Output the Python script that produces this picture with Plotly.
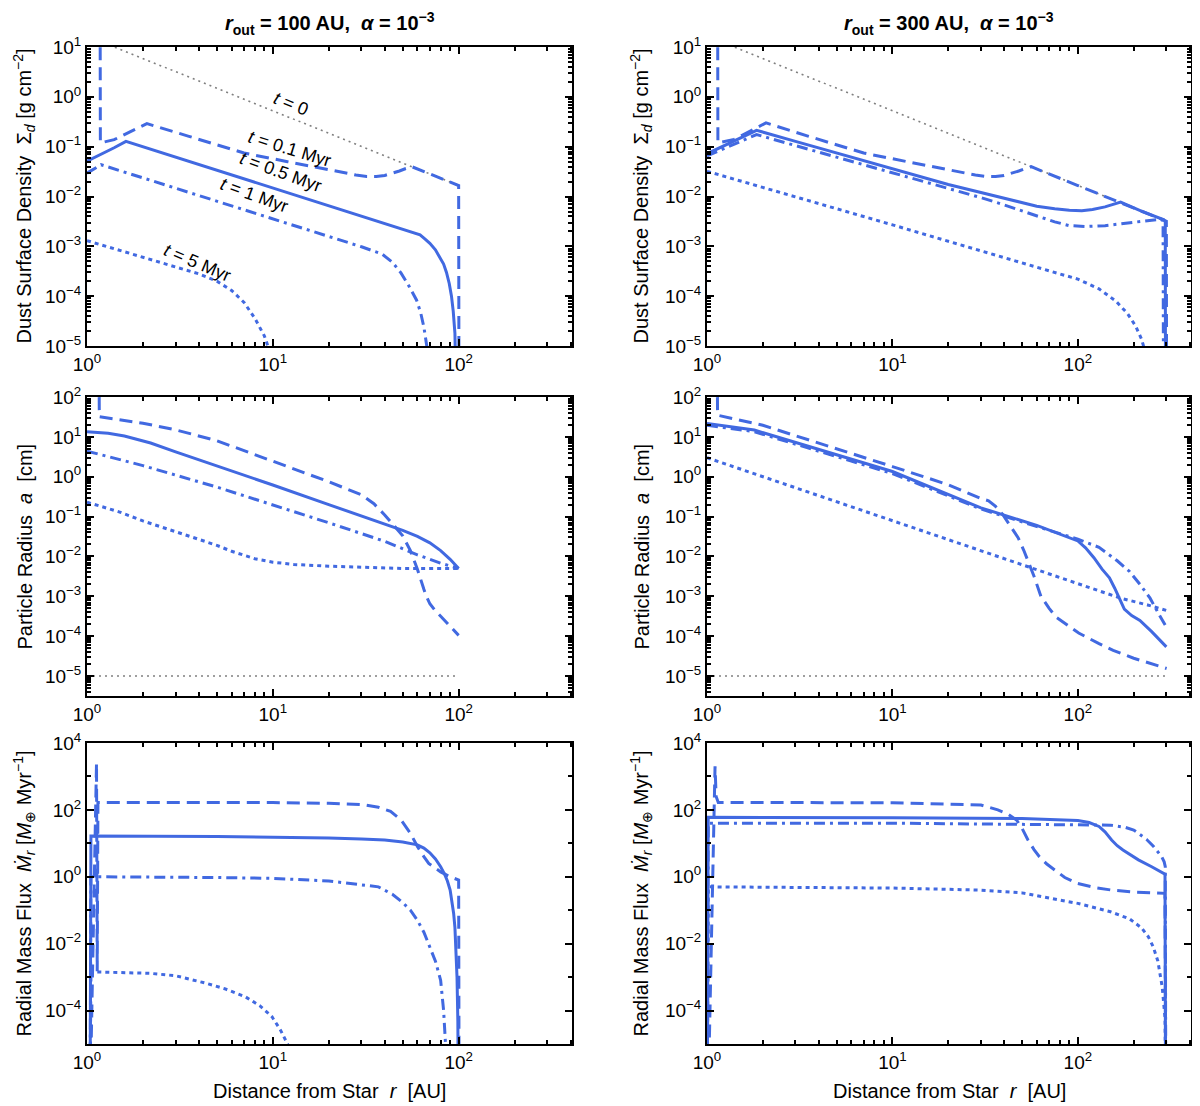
import plotly.graph_objects as go
from plotly.subplots import make_subplots

BLUE = "#4169E1"
GRAY = "#808080"
FONT = "Liberation Sans, Arial, sans-serif"

# ---------------- top row: dust surface density [g cm^-2] ----------------
# r_out = 100 AU
SD100_T0_R = [1.0, 100.0]
SD100_T0 = [16.6, 0.0166]
SD100_A_R = [1.175, 1.18, 1.4, 2.1, 3.5, 7.0, 12.0, 20.0, 24.0, 28.0, 32.0, 36.0, 40.0, 44.0, 48.0, 52.0, 56.0, 75.0, 100.0, 100.5]
SD100_A = [1000, 0.119, 0.138, 0.29, 0.163, 0.0745, 0.05, 0.0344, 0.030, 0.027, 0.0253, 0.0252, 0.0265, 0.029, 0.0325, 0.0365, 0.0396, 0.0256, 0.0166, 1e-7]
SD100_B_R = [1.0, 1.2, 1.4, 1.62, 3.0, 5.0, 10.0, 20.0, 40.0, 55.0, 62.0, 66.0, 70.0, 75.0, 79.0, 83.0, 86.0, 89.0, 91.5, 93.5, 95.5, 97.0, 98.0]
SD100_B = [0.051, 0.07, 0.095, 0.128, 0.0618, 0.0337, 0.0148, 0.0065, 0.00286, 0.0020, 0.0017, 0.0014, 0.00115, 8.5e-4, 6.2e-4, 4.4e-4, 3e-4, 1.8e-4, 1.0e-4, 5e-5, 1.8e-5, 5e-6, 1e-7]
SD100_C_R = [1.0, 1.19, 3.0, 10.0, 20.0, 30.0, 38.7, 44.0, 49.0, 54.0, 59.4, 62.5, 65.0, 67.0, 68.0, 69.0]
SD100_C = [0.0295, 0.0434, 0.01466, 0.00356, 0.00157, 9.8e-4, 7.0e-4, 4.8e-4, 2.9e-4, 1.6e-4, 8.3e-5, 4.6e-5, 2.4e-5, 1.2e-5, 8e-6, 1e-7]
SD100_D_R = [1.0, 2.0, 3.0, 4.0, 5.0, 6.0, 7.0, 8.0, 9.0, 9.6, 10.0]
SD100_D = [1.3e-3, 6e-4, 3.9e-4, 2.8e-4, 2e-4, 1.3e-4, 7.5e-5, 3.6e-5, 1.6e-5, 8e-6, 1e-7]

# r_out = 300 AU
SD300_T0_R = [1.0, 300.0]
SD300_T0 = [16.6, 0.0032]
SD300_A_R = [1.14, 1.145, 1.4, 2.08, 3.5, 7.0, 12.0, 20.0, 24.0, 28.0, 32.0, 36.0, 40.0, 44.0, 48.0, 52.0, 56.0, 100.0, 200.0, 300.0, 301.0]
SD300_A = [1000, 0.119, 0.14, 0.30, 0.163, 0.0745, 0.05, 0.0344, 0.030, 0.027, 0.0253, 0.0252, 0.0265, 0.029, 0.0325, 0.0365, 0.0396, 0.0166, 0.00587, 0.0032, 1e-7]
SD300_B_R = [1.0, 1.3, 1.85, 3.0, 10.0, 20.0, 30.0, 40.0, 50.0, 60.0, 75.0, 90.0, 105.0, 120.0, 140.0, 160.0, 170.0, 220.0, 291.0, 296.0, 297.0]
SD300_B = [0.072, 0.115, 0.213, 0.128, 0.036, 0.0174, 0.012, 0.0092, 0.0075, 0.0064, 0.0057, 0.0053, 0.0052, 0.0055, 0.0062, 0.0072, 0.0077, 0.0051, 0.0034, 0.0031, 1e-7]
SD300_C_R = [1.0, 1.3, 1.85, 3.0, 10.0, 20.0, 30.0, 40.0, 50.0, 60.0, 75.0, 90.0, 110.0, 140.0, 180.0, 230.0, 277.0, 288.0, 290.0]
SD300_C = [0.065, 0.1, 0.175, 0.105, 0.03, 0.0145, 0.0095, 0.0068, 0.0051, 0.0041, 0.0031, 0.0026, 0.0025, 0.0026, 0.0029, 0.0032, 0.0035, 0.0033, 1e-7]
SD300_D_R = [1.0, 10.0, 77.0, 100.0, 130.0, 160.0, 185.0, 205.0, 220.0, 230.0, 232.0]
SD300_D = [0.032, 0.0027, 2.9e-4, 2.2e-4, 1.4e-4, 8e-5, 4.5e-5, 2.5e-5, 1.4e-5, 8e-6, 1e-7]

# ---------------- middle row: particle radius [cm] ----------------
PR100_T0_R = [1.0, 100.0]
PR100_T0 = [1e-5, 1e-5]
PR100_A_R = [1.16, 1.165, 2.0, 3.0, 5.0, 10.0, 20.0, 30.0, 35.0, 40.0, 45.0, 50.0, 55.0, 60.0, 65.0, 67.0, 70.0, 75.0, 81.0, 90.0, 100.0]
PR100_A = [1000, 32, 22, 15, 8, 2.5, 0.75, 0.35, 0.21, 0.11, 0.06, 0.033, 0.014, 0.0048, 0.0015, 0.001, 6.5e-4, 4.3e-4, 3e-4, 1.75e-4, 1.05e-4]
PR100_B_R = [1.0, 1.3, 1.59, 2.2, 3.0, 5.0, 10.0, 20.0, 30.0, 40.0, 50.0, 60.0, 70.0, 80.0, 90.0, 100.0]
PR100_B = [13.4, 12.3, 10.5, 7.0, 4.2, 1.9, 0.62, 0.2, 0.105, 0.065, 0.045, 0.032, 0.022, 0.014, 0.0085, 0.005]
PR100_C_R = [1.0, 2.0, 5.0, 10.0, 20.0, 40.0, 60.0, 80.0, 100.0]
PR100_C = [4.4, 1.9, 0.55, 0.2, 0.07, 0.024, 0.011, 0.0068, 0.005]
PR100_D_R = [1.0, 1.5, 2.0, 3.0, 4.0, 5.0, 6.0, 7.0, 8.0, 10.0, 13.0, 20.0, 30.0, 50.0, 100.0]
PR100_D = [0.23, 0.13, 0.078, 0.042, 0.027, 0.019, 0.0135, 0.0105, 0.0088, 0.0072, 0.0063, 0.0057, 0.0053, 0.005, 0.005]

PR300_T0_R = [1.0, 300.0]
PR300_T0 = [1e-5, 1e-5]
PR300_A_R = [1.135, 1.14, 2.0, 5.0, 10.0, 20.0, 29.7, 33.0, 36.0, 39.4, 43.0, 47.6, 51.0, 54.8, 58.0, 63.2, 70.0, 76.4, 90.0, 101.0, 130.0, 155.0, 200.0, 250.0, 301.0]
PR300_A = [1000, 35, 19.5, 5.1, 1.8, 0.63, 0.29, 0.25, 0.18, 0.112, 0.06, 0.0295, 0.0145, 0.0064, 0.0032, 1.0e-3, 5e-4, 3e-4, 1.8e-4, 1.2e-4, 6.5e-5, 4.4e-5, 2.8e-5, 2e-5, 1.55e-5]
PR300_B_R = [1.0, 1.8, 10.0, 30.0, 60.0, 100.0, 110.0, 122.0, 135.0, 148.0, 158.0, 167.0, 178.0, 195.0, 216.0, 250.0, 300.0]
PR300_B = [21.6, 14.8, 1.35, 0.166, 0.06, 0.0245, 0.0165, 0.0093, 0.0048, 0.0029, 0.0016, 9.5e-4, 4.8e-4, 3.3e-4, 2.5e-4, 1.3e-4, 5.4e-5]
PR300_C_R = [1.0, 1.8, 10.0, 30.0, 100.0, 130.0, 163.0, 190.0, 216.0, 245.0, 274.0, 300.0]
PR300_C = [19.5, 13.5, 1.2, 0.155, 0.027, 0.017, 0.0078, 0.0042, 0.002, 9e-4, 3.5e-4, 1.7e-4]
PR300_D_R = [1.0, 10.0, 30.0, 52.0, 100.0, 170.0, 240.0, 301.0]
PR300_D = [3.0, 0.08, 0.014, 0.006, 0.0021, 9e-4, 6e-4, 4.4e-4]

# ---------------- bottom row: radial mass flux [M_earth / Myr] ----------------
MF100_A_R = [1.045, 1.125, 1.135, 1.145, 10.0, 20.0, 30.0, 37.0, 43.0, 49.0, 55.0, 60.0, 65.0, 69.0, 80.0, 90.0, 100.0, 100.5]
MF100_A = [1e-6, 2500, 1.5e-3, 166, 165, 158, 145, 120, 90, 50, 20, 8, 4, 2.5, 1.4, 1.0, 0.8, 1e-6]
MF100_B_R = [1.04, 1.05, 5.0, 10.0, 20.0, 30.0, 40.0, 50.0, 60.0, 65.0, 70.0, 75.0, 80.0, 84.0, 87.0, 90.0, 92.0, 94.0, 95.5, 97.0, 98.0, 99.0, 99.5]
MF100_B = [1e-6, 16.5, 16.0, 15.5, 14.5, 13.5, 12.5, 11.0, 9.0, 7.2, 5.2, 3.4, 2.0, 1.2, 0.75, 0.4, 0.2, 0.08, 0.03, 6e-3, 1e-3, 5e-5, 1e-6]
MF100_C_R = [1.04, 1.05, 5.0, 10.0, 20.0, 37.0, 44.0, 50.0, 55.0, 60.0, 65.0, 70.0, 75.0, 80.0, 83.0, 85.0, 86.0]
MF100_C = [1e-6, 1.0, 0.95, 0.9, 0.75, 0.5, 0.3, 0.17, 0.1, 0.05, 0.022, 8e-3, 3e-3, 8e-4, 1e-4, 1e-5, 1e-7]
MF100_D_R = [1.04, 1.05, 2.18, 3.0, 4.4, 5.5, 7.1, 8.5, 9.3, 9.9, 11.0, 12.0, 12.5]
MF100_D = [1e-6, 1.44e-3, 1.3e-3, 1.1e-3, 6.5e-4, 4.5e-4, 2.6e-4, 1.4e-4, 9e-5, 6.5e-5, 2.6e-5, 1e-5, 1e-7]

MF300_A_R = [1.02, 1.105, 1.12, 1.15, 10.0, 30.0, 37.0, 42.0, 46.7, 50.0, 53.8, 58.0, 62.0, 68.0, 75.0, 85.0, 99.5, 125.0, 152.0, 200.0, 295.0, 298.0]
MF300_A = [1e-6, 2000, 250, 166, 164, 140, 100, 75, 50, 28, 12.6, 6.5, 4.0, 2.4, 1.6, 0.95, 0.63, 0.47, 0.4, 0.35, 0.32, 1e-7]
MF300_B_R = [1.005, 1.015, 10.0, 50.0, 100.0, 115.0, 130.0, 140.0, 152.0, 163.0, 175.0, 195.0, 212.0, 250.0, 295.0, 297.0]
MF300_B = [1e-6, 60, 58, 55, 48, 42, 32, 22, 12.6, 8.5, 6.3, 4.3, 3.2, 2.0, 1.2, 1e-7]
MF300_C_R = [1.005, 1.015, 10.0, 50.0, 150.0, 180.0, 200.0, 212.0, 235.0, 256.0, 270.0, 283.0, 292.0, 296.0, 298.0]
MF300_C = [1e-6, 40, 40, 38, 35, 30, 25, 20, 13, 8, 5.5, 4, 2.8, 2, 1e-7]
MF300_D_R = [1.005, 1.015, 10.0, 30.0, 50.0, 75.0, 100.0, 150.0, 190.0, 220.0, 240.0, 255.0, 270.0, 285.0, 295.0, 298.0]
MF300_D = [1e-6, 0.5, 0.46, 0.4, 0.33, 0.22, 0.16, 0.09, 0.055, 0.03, 0.016, 8e-3, 3e-3, 5e-4, 6e-5, 1e-7]

# time labels in the top-left panel: (text, log10 r, log10 sigma, angle)
TIME_LABELS = [
    ("<i>t</i> = 0", 1.10, -0.15, 22),
    ("<i>t</i> = 0.1 Myr", 1.095, -1.04, 17),
    ("<i>t</i> = 0.5 Myr", 1.043, -1.50, 20),
    ("<i>t</i> = 1 Myr", 0.899, -1.97, 20),
    ("<i>t</i> = 5 Myr", 0.597, -3.34, 23),
]

SOLID = dict(color=BLUE, width=3)
DASH = dict(color=BLUE, width=3, dash="13px,7px")
DASHDOT = dict(color=BLUE, width=3, dash="11px,5px,3px,5px")
DOT = dict(color=BLUE, width=3, dash="4px,4px")
GRAYDOT = dict(color=GRAY, width=1.6, dash="2px,4px")

# the page keeps the browser's 8px body margin around the figure
W, H, PAD = 1192, 1098, 8


def px_x(px):
    return (px - PAD) / W


def px_y(py):
    return 1 - (py - PAD) / H


fig = make_subplots(rows=3, cols=2)


def add(row, col, r, y, style):
    fig.add_trace(
        go.Scatter(x=r, y=y, mode="lines", line=style, hoverinfo="skip", showlegend=False),
        row=row, col=col,
    )


panels = [
    (1, 1, [(SD100_T0_R, SD100_T0, GRAYDOT), (SD100_A_R, SD100_A, DASH), (SD100_B_R, SD100_B, SOLID),
            (SD100_C_R, SD100_C, DASHDOT), (SD100_D_R, SD100_D, DOT)]),
    (1, 2, [(SD300_T0_R, SD300_T0, GRAYDOT), (SD300_A_R, SD300_A, DASH), (SD300_B_R, SD300_B, SOLID),
            (SD300_C_R, SD300_C, DASHDOT), (SD300_D_R, SD300_D, DOT)]),
    (2, 1, [(PR100_T0_R, PR100_T0, GRAYDOT), (PR100_A_R, PR100_A, DASH), (PR100_B_R, PR100_B, SOLID),
            (PR100_C_R, PR100_C, DASHDOT), (PR100_D_R, PR100_D, DOT)]),
    (2, 2, [(PR300_T0_R, PR300_T0, GRAYDOT), (PR300_A_R, PR300_A, DASH), (PR300_B_R, PR300_B, SOLID),
            (PR300_C_R, PR300_C, DASHDOT), (PR300_D_R, PR300_D, DOT)]),
    (3, 1, [(MF100_A_R, MF100_A, DASH), (MF100_B_R, MF100_B, SOLID),
            (MF100_C_R, MF100_C, DASHDOT), (MF100_D_R, MF100_D, DOT)]),
    (3, 2, [(MF300_A_R, MF300_A, DASH), (MF300_B_R, MF300_B, SOLID),
            (MF300_C_R, MF300_C, DASHDOT), (MF300_D_R, MF300_D, DOT)]),
]
for row, col, curves in panels:
    for r, y, style in curves:
        add(row, col, r, y, style)


def sup(e):
    return "10<sup>%s</sup>" % (str(e).replace("-", "\u2212"))


def decade_minors(lo, hi):
    return [m * 10.0 ** e for e in range(lo, hi) for m in range(2, 10)]


tickfont = dict(family=FONT, size=19, color="black")
base = dict(type="log", showgrid=False, zeroline=False, automargin=False, tickmode="array",
            ticks="inside", tickcolor="black", mirror="ticks")

x_dom = {1: [px_x(87), px_x(572)], 2: [px_x(707), px_x(1191)]}
y_dom = {1: [px_y(346), px_y(47)], 2: [px_y(696), px_y(397)], 3: [px_y(1044), px_y(743)]}
y_rng = {1: [-5, 1], 2: [-5.5, 2], 3: [-5, 4]}
x_rng = [0, 2.61]

x_major = [1, 10, 100]
x_minor = decade_minors(0, 3)
y_major = {1: list(range(-5, 2)), 2: list(range(-5, 3)), 3: [-4, -2, 0, 2, 4]}
y_minor = {1: decade_minors(-5, 1), 2: decade_minors(-6, 2), 3: [1e-3, 1e-1, 1e1, 1e3]}

layout_axes = {}
for i in range(6):
    row, col = i // 2 + 1, i % 2 + 1
    sfx = "" if i == 0 else str(i + 1)
    # main axes: every tick short, labels only on the decades
    xv = x_major + x_minor
    xt = [sup(k) for k in range(3)] + [""] * len(x_minor)
    fig.update_xaxes(base, domain=x_dom[col], range=x_rng, tickvals=xv, ticktext=xt,
                     ticklen=4, tickwidth=1.5, showline=True, linecolor="black", linewidth=2,
                     tickfont=tickfont, row=row, col=col)
    ye = y_major[row]
    yv = [10.0 ** e for e in ye] + y_minor[row]
    yt = [sup(e) for e in ye] + [""] * len(y_minor[row])
    fig.update_yaxes(base, domain=y_dom[row], range=y_rng[row], tickvals=yv, ticktext=yt,
                     ticklen=4, tickwidth=1.5, showline=True, linecolor="black", linewidth=2,
                     tickfont=tickfont, row=row, col=col)
    # overlay axes carrying the longer major ticks
    layout_axes["xaxis%d" % (7 + i)] = dict(
        base, overlaying="x" + sfx, anchor="y" + sfx, side="bottom", range=x_rng,
        tickvals=x_major, ticklen=7, tickwidth=1.5, showticklabels=False, showline=False)
    layout_axes["yaxis%d" % (7 + i)] = dict(
        base, overlaying="y" + sfx, anchor="x" + sfx, side="left", range=y_rng[row],
        tickvals=[10.0 ** e for e in ye], ticklen=7, tickwidth=1.5, showticklabels=False,
        showline=False)
    fig.add_trace(go.Scatter(x=[], y=[], xaxis="x%d" % (7 + i), yaxis="y%d" % (7 + i),
                             mode="lines", hoverinfo="skip", showlegend=False))

annotations = []
for text, lx, ly, ang in TIME_LABELS:
    annotations.append(dict(x=lx, y=ly, xref="x", yref="y", text=text, textangle=ang,
                            xanchor="center", yanchor="middle", showarrow=False,
                            font=dict(family=FONT, size=18, color="black")))

col_titles = {
    1: "<b><i>r</i><sub>out</sub> = 100 AU,  <i>\u03b1</i> = 10<sup>\u22123</sup></b>",
    2: "<b><i>r</i><sub>out</sub> = 300 AU,  <i>\u03b1</i> = 10<sup>\u22123</sup></b>",
}
for col in (1, 2):
    annotations.append(dict(x=sum(x_dom[col]) / 2, y=px_y(23), xref="paper", yref="paper",
                            text=col_titles[col], showarrow=False, xanchor="center", yanchor="middle",
                            font=dict(family=FONT, size=20, color="black")))
    annotations.append(dict(x=sum(x_dom[col]) / 2, y=px_y(1091), xref="paper", yref="paper",
                            text="Distance from Star  <i>r</i>  [AU]", showarrow=False,
                            xanchor="center", yanchor="middle",
                            font=dict(family=FONT, size=20, color="black")))

y_titles = {
    1: "Dust Surface Density  \u03a3<sub><i>d</i></sub> [g cm<sup>\u22122</sup>]",
    2: "Particle Radius  <i>a</i>  [cm]",
    3: "Radial Mass Flux  <i>\u1e40</i><sub><i>r</i></sub> [<i>M</i><sub>\u2295</sub> Myr<sup>\u22121</sup>]",
}
for row in (1, 2, 3):
    for col, xpx in ((1, 24), (2, 641)):
        annotations.append(dict(x=px_x(xpx), y=sum(y_dom[row]) / 2, xref="paper", yref="paper",
                                text=y_titles[row], textangle=-90, showarrow=False,
                                xanchor="center", yanchor="middle",
                                font=dict(family=FONT, size=20, color="black")))

fig.update_layout(
    width=W, height=H, margin=dict(l=0, r=0, t=0, b=0),
    paper_bgcolor="white", plot_bgcolor="white",
    font=dict(family=FONT, size=17, color="black"),
    annotations=annotations, showlegend=False, **layout_axes,
)

fig.write_html("out.html")
